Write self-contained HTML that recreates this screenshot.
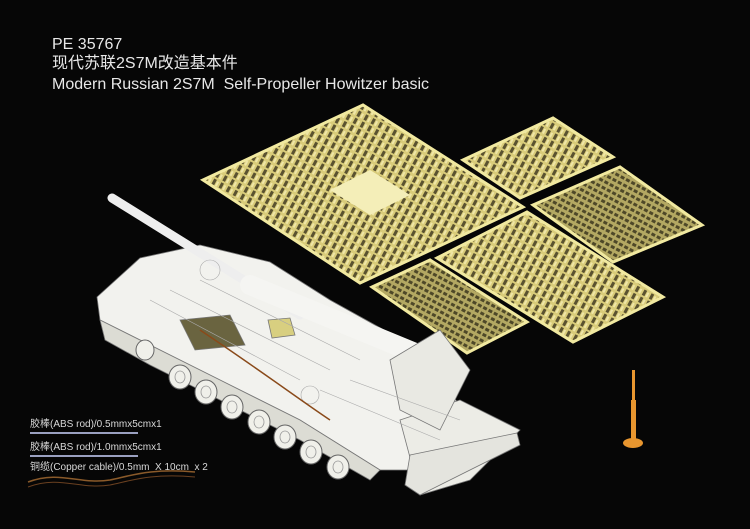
<!DOCTYPE html>
<html><head><meta charset="utf-8"><style>
html,body{margin:0;padding:0;background:#050505;}
#w{position:relative;width:750px;height:529px;overflow:hidden;background:#060606;}
.t{position:absolute;color:#e8e8e8;font-family:"Liberation Sans","Noto Sans CJK SC",sans-serif;white-space:nowrap;line-height:16px;font-size:16px;}
.s{position:absolute;color:#d8d8d8;font-family:"Liberation Sans","Noto Sans CJK SC",sans-serif;font-size:10px;line-height:12px;white-space:nowrap;}
</style></head><body><div id="w">
<svg width="750" height="529" style="position:absolute;left:0;top:0">
<defs>
<pattern id="pe" width="8" height="8" patternUnits="userSpaceOnUse" patternTransform="rotate(28)">
<rect width="8" height="8" fill="#d9cc7a"/>
<rect x="1" y="1" width="3" height="6" fill="#5a5230"/>
<rect x="5" y="2" width="2" height="5" fill="#efe6a8"/>
</pattern>
<pattern id="pe2" width="6" height="6" patternUnits="userSpaceOnUse" patternTransform="rotate(28)">
<rect width="6" height="6" fill="#b3a862"/>
<rect x="1" y="1" width="4" height="3" fill="#4e4828"/>
</pattern>
</defs>
<polygon points="203,180 363,105 523,207 360,283" fill="url(#pe)" stroke="#f1e9a0" stroke-width="3"/>
<polygon points="330,190 370,170 410,195 370,215" fill="#f4eeb8"/>
<polygon points="463,160 553,118 613,157 520,198" fill="url(#pe)" stroke="#f1e9a0" stroke-width="3"/>
<polygon points="533,205 620,167 702,225 613,262" fill="url(#pe2)" stroke="#f1e9a0" stroke-width="3"/>
<polygon points="437,258 527,212 663,297 573,342" fill="url(#pe)" stroke="#f1e9a0" stroke-width="3"/>
<polygon points="372,287 430,260 527,322 467,353" fill="url(#pe2)" stroke="#f1e9a0" stroke-width="3"/>
<g stroke="#777" stroke-width="0.8">
<polygon points="97,297 140,258 200,245 270,262 330,300 420,350 470,420 430,470 380,470 300,420 150,345 100,320" fill="#f2f2ee"/>
<polygon points="100,320 150,345 300,420 380,470 370,480 300,440 150,365 105,340" fill="#dcdcd4"/>
<line x1="112" y1="198" x2="300" y2="315" stroke="#eee" stroke-width="9" stroke-linecap="round"/>
<line x1="250" y1="285" x2="420" y2="355" stroke="#f5f5f2" stroke-width="20" stroke-linecap="round"/>
<polygon points="180,320 230,315 245,345 195,350" fill="#6a6440"/>
<polygon points="268,320 290,318 295,335 272,338" fill="#d8cf80"/>
<polygon points="400,420 460,400 520,430 470,480 420,495" fill="#ececE6"/>
<polygon points="410,455 517,433 520,445 420,495 405,485" fill="#e4e4de"/>
<polygon points="390,360 440,330 470,370 440,430 400,410" fill="#e9e9e3"/>
</g>
<g fill="none" stroke="#aaa" stroke-width="0.6">
<path d="M150,300 L300,380 M170,290 L330,370 M200,280 L360,360 M320,390 L440,440 M350,380 L460,420"/>
<circle cx="210" cy="270" r="10"/><circle cx="310" cy="395" r="9"/>
</g>
<g fill="#f0f0ea" stroke="#666" stroke-width="1">
<ellipse cx="180" cy="377" rx="11" ry="12"/><ellipse cx="206" cy="392" rx="11" ry="12"/>
<ellipse cx="232" cy="407" rx="11" ry="12"/><ellipse cx="259" cy="422" rx="11" ry="12"/>
<ellipse cx="285" cy="437" rx="11" ry="12"/><ellipse cx="311" cy="452" rx="11" ry="12"/>
<ellipse cx="338" cy="467" rx="11" ry="12"/>
<ellipse cx="145" cy="350" rx="9" ry="10"/>
</g>
<g fill="none" stroke="#999" stroke-width="0.8">
<ellipse cx="180" cy="377" rx="5" ry="6"/><ellipse cx="206" cy="392" rx="5" ry="6"/>
<ellipse cx="232" cy="407" rx="5" ry="6"/><ellipse cx="259" cy="422" rx="5" ry="6"/>
<ellipse cx="285" cy="437" rx="5" ry="6"/><ellipse cx="311" cy="452" rx="5" ry="6"/>
<ellipse cx="338" cy="467" rx="5" ry="6"/>
</g>
<path d="M200,330 C260,370 300,400 330,420" stroke="#8a4a1a" stroke-width="1.5" fill="none"/>
<rect x="30" y="432" width="108" height="2" fill="#9aa0c0"/>
<rect x="30" y="455" width="108" height="2" fill="#9aa0c0"/>
<path d="M28,482 C60,470 80,485 110,480 C130,476 150,468 195,472" stroke="#8a5a2a" stroke-width="1.5" fill="none"/>
<path d="M28,487 C60,475 80,490 110,485 C130,481 150,473 195,477" stroke="#6a4020" stroke-width="1" fill="none"/>
<rect x="632" y="370" width="3" height="32" fill="#e8962f"/>
<rect x="631" y="400" width="5" height="42" fill="#e8962f"/>
<ellipse cx="633" cy="443" rx="10" ry="5" fill="#e8962f"/>
</svg>
<div class="t" style="left:52px;top:37px;">PE 35767</div>
<div class="t" style="left:52px;top:56px;">现代苏联2S7M改造基本件</div>
<div class="t" style="left:52px;top:77px;">Modern Russian 2S7M&nbsp; Self-Propeller Howitzer basic</div>
<div class="s" style="left:30px;top:419px;">胶棒(ABS rod)/0.5mmx5cmx1</div>
<div class="s" style="left:30px;top:442px;">胶棒(ABS rod)/1.0mmx5cmx1</div>
<div class="s" style="left:30px;top:462px;">铜缆(Copper cable)/0.5mm &nbsp;X 10cm &nbsp;x 2</div>
</div></body></html>
